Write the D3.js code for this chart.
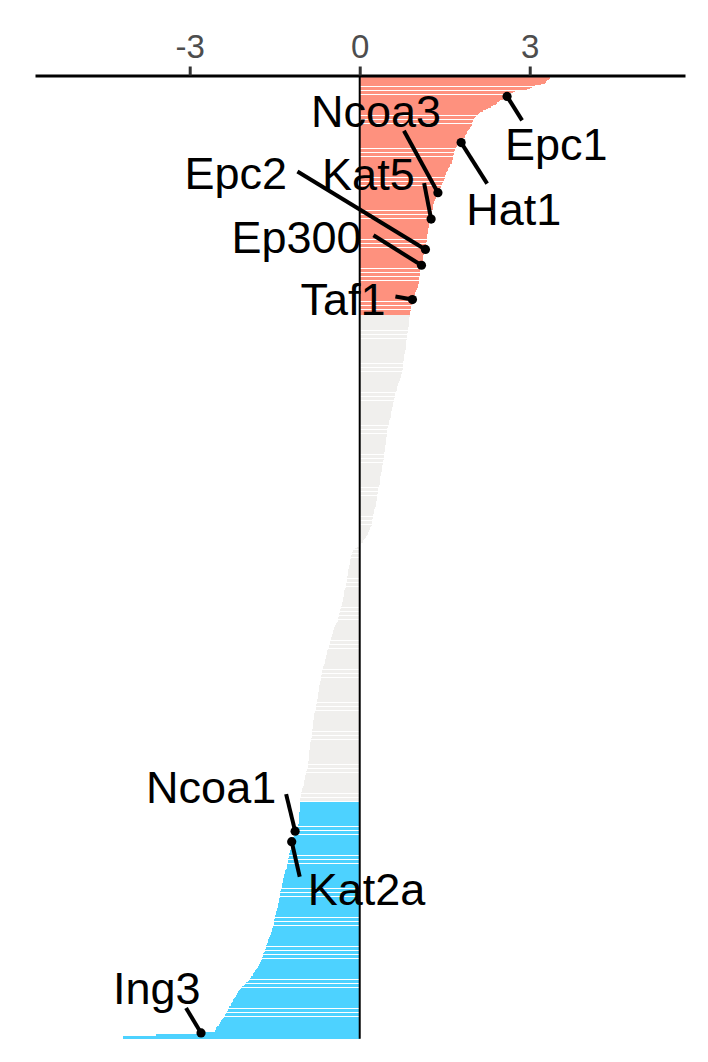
<!DOCTYPE html>
<html>
<head>
<meta charset="utf-8">
<script src="https://cdn.jsdelivr.net/npm/d3@7"></script>
<style>
  html, body { margin: 0; padding: 0; background: #ffffff; }
  svg { display: block; }
  text { font-family: "Liberation Sans", Arial, sans-serif; }
</style>
</head>
<body>
<svg id="chart" width="708" height="1062"></svg>
<script>
// ---- data (sorted scores, top to bottom) ----
const upValues = [
3.36,3.34,3.31,3.29,3.27,3.20,3.10,3.04,3.00,2.96,
2.74,2.71,2.66,2.62,2.60,2.55,2.52,2.48,2.46,2.43,
2.41,2.36,2.31,2.27,2.22,2.17,2.13,2.10,2.08,2.06,
2.04,2.02,2.00,2.00,1.99,1.99,1.98,1.97,1.95,1.93,
1.91,1.90,1.89,1.88,1.86,1.85,1.83,1.81,1.80,1.79,
1.74,1.72,1.71,1.70,1.69,1.68,1.67,1.66,1.66,1.65,
1.65,1.64,1.64,1.63,1.63,1.62,1.60,1.59,1.57,1.56,
1.55,1.54,1.53,1.52,1.51,1.50,1.50,1.49,1.48,1.47,
1.46,1.45,1.44,1.43,1.42,1.41,1.40,1.38,1.37,1.36,
1.35,1.34,1.33,1.32,1.31,1.31,1.30,1.30,1.29,1.29,
1.29,1.28,1.28,1.27,1.27,1.26,1.26,1.26,1.25,1.24,
1.23,1.23,1.22,1.22,1.21,1.21,1.20,1.20,1.20,1.19,
1.19,1.19,1.18,1.18,1.18,1.17,1.17,1.16,1.16,1.16,
1.16,1.15,1.14,1.14,1.13,1.12,1.12,1.11,1.11,1.10,
1.10,1.10,1.09,1.09,1.08,1.07,1.07,1.07,1.06,1.06,
1.06,1.05,1.05,1.05,1.04,1.04,1.04,1.03,1.03,1.02,
1.01,1.00,0.99,0.98,0.97,0.96,0.96,0.95,0.93,0.93,
0.93,0.93,0.92,0.91,0.91,0.90,0.90,0.89,0.89,0.88
];
const midValues = [
0.88,0.88,0.87,0.87,0.87,0.87,0.87,0.87,0.87,0.86,
0.86,0.85,0.85,0.85,0.84,0.84,0.83,0.83,0.83,0.82,
0.82,0.82,0.82,0.81,0.81,0.81,0.81,0.80,0.80,0.80,
0.79,0.79,0.79,0.78,0.78,0.77,0.77,0.77,0.76,0.76,
0.76,0.76,0.75,0.75,0.74,0.73,0.73,0.72,0.71,0.71,
0.70,0.69,0.68,0.67,0.66,0.66,0.65,0.65,0.64,0.63,
0.63,0.62,0.62,0.61,0.60,0.60,0.59,0.59,0.58,0.58,
0.57,0.57,0.57,0.56,0.56,0.55,0.55,0.55,0.54,0.53,
0.52,0.52,0.51,0.51,0.50,0.50,0.49,0.49,0.49,0.49,
0.48,0.48,0.48,0.47,0.47,0.47,0.46,0.46,0.46,0.45,
0.45,0.44,0.44,0.44,0.43,0.43,0.42,0.42,0.42,0.42,
0.41,0.41,0.41,0.41,0.40,0.40,0.40,0.39,0.39,0.38,
0.37,0.37,0.36,0.36,0.36,0.35,0.35,0.35,0.35,0.34,
0.34,0.33,0.33,0.33,0.32,0.32,0.31,0.31,0.31,0.30,
0.30,0.29,0.29,0.29,0.28,0.28,0.27,0.26,0.26,0.25,
0.25,0.24,0.23,0.23,0.23,0.22,0.22,0.22,0.21,0.21,
0.20,0.19,0.18,0.17,0.16,0.15,0.14,0.13,0.11,0.09,
0.08,0.06,0.05,0.03,0.01,
-0.02,-0.05,-0.08,-0.11,-0.12,
-0.13,-0.14,-0.15,-0.16,-0.16,-0.17,-0.17,-0.17,-0.18,-0.18,
-0.19,-0.19,-0.19,-0.20,-0.20,-0.21,-0.21,-0.21,-0.22,-0.22,
-0.23,-0.23,-0.23,-0.24,-0.24,-0.25,-0.25,-0.26,-0.26,-0.27,
-0.27,-0.27,-0.28,-0.28,-0.29,-0.29,-0.30,-0.30,-0.31,-0.31,
-0.32,-0.33,-0.33,-0.34,-0.35,-0.35,-0.36,-0.37,-0.37,-0.38,
-0.38,-0.39,-0.39,-0.40,-0.41,-0.43,-0.44,-0.45,-0.46,-0.47,
-0.47,-0.48,-0.49,-0.49,-0.50,-0.51,-0.51,-0.52,-0.53,-0.53,
-0.54,-0.55,-0.55,-0.56,-0.57,-0.57,-0.58,-0.58,-0.59,-0.60,
-0.60,-0.61,-0.61,-0.62,-0.62,-0.63,-0.64,-0.64,-0.65,-0.66,
-0.66,-0.67,-0.67,-0.68,-0.68,-0.68,-0.69,-0.69,-0.70,-0.70,
-0.70,-0.71,-0.71,-0.71,-0.72,-0.72,-0.73,-0.73,-0.73,-0.74,
-0.74,-0.75,-0.75,-0.76,-0.76,-0.77,-0.77,-0.78,-0.78,-0.78,
-0.79,-0.79,-0.80,-0.80,-0.80,-0.81,-0.81,-0.82,-0.82,-0.82,
-0.83,-0.83,-0.83,-0.83,-0.84,-0.84,-0.84,-0.84,-0.85,-0.85,
-0.85,-0.86,-0.86,-0.86,-0.87,-0.87,-0.87,-0.88,-0.88,-0.88,
-0.89,-0.89,-0.89,-0.89,-0.90,-0.90,-0.90,-0.90,-0.91,-0.91,
-0.91,-0.92,-0.92,-0.92,-0.93,-0.93,-0.94,-0.94,-0.95,-0.96,
-0.96,-0.97,-0.97,-0.98,-0.98,-0.99,-0.99,-1.00,-1.00,-1.01,
-1.02,-1.02,-1.03,-1.04,-1.04,-1.04,-1.05,-1.05,-1.05
];
const downValues = [
-1.05,-1.05,-1.05,-1.06,-1.06,-1.06,-1.06,-1.06,-1.07,-1.07,-1.07,
-1.07,-1.07,-1.07,-1.08,-1.08,-1.08,-1.09,-1.09,-1.10,-1.10,
-1.11,-1.14,-1.14,-1.15,-1.15,-1.16,-1.17,-1.17,-1.18,-1.20,
-1.20,-1.20,-1.21,-1.21,-1.22,-1.22,-1.23,-1.23,-1.24,-1.24,
-1.25,-1.25,-1.26,-1.26,-1.27,-1.27,-1.28,-1.28,-1.29,-1.29,
-1.30,-1.31,-1.31,-1.32,-1.33,-1.33,-1.34,-1.35,-1.35,-1.36,
-1.36,-1.37,-1.37,-1.38,-1.38,-1.39,-1.39,-1.40,-1.40,-1.40,
-1.41,-1.41,-1.42,-1.42,-1.43,-1.43,-1.44,-1.44,-1.45,-1.45,
-1.46,-1.46,-1.47,-1.47,-1.48,-1.49,-1.49,-1.50,-1.51,-1.51,
-1.52,-1.52,-1.52,-1.53,-1.53,-1.54,-1.54,-1.55,-1.56,-1.57,
-1.58,-1.59,-1.60,-1.61,-1.61,-1.62,-1.63,-1.64,-1.65,-1.66,
-1.66,-1.67,-1.68,-1.69,-1.70,-1.70,-1.71,-1.72,-1.73,-1.74,
-1.75,-1.76,-1.77,-1.78,-1.80,-1.81,-1.83,-1.85,-1.86,-1.88,
-1.89,-1.91,-1.92,-1.94,-1.96,-1.98,-2.00,-2.02,-2.05,-2.08,
-2.10,-2.11,-2.13,-2.14,-2.16,-2.17,-2.19,-2.20,-2.21,-2.23,
-2.24,-2.25,-2.27,-2.28,-2.30,-2.31,-2.32,-2.33,-2.34,-2.36,
-2.37,-2.38,-2.39,-2.41,-2.43,-2.44,-2.46,-2.47,-2.49,-2.52,
-2.53,-2.54,-2.55,-2.55,-2.80,-3.60,-3.60,-4.18,-4.18
];
const groupNames = ["up", "mid", "down"];
const xTickValues = [-3, 0, 3];
const xTickLabels = ["-3", "0", "3"];
const labelGenes = ["Epc1", "Hat1", "Ncoa3", "Kat5", "Epc2", "Ep300", "Taf1", "Ncoa1", "Kat2a", "Ing3"];
const labelRanks = [14, 49, 87, 107, 130, 142, 168, 571, 579, 724];

// ---- styling / layout ----
const groupColors = { up: "#fe917e", mid: "#f0efed", down: "#4dd2ff" };
// label offsets from the point: text (left, baseline) and segment end
const labelLayout = {
  Epc1:  { tx: -2,   ty: 64,  sx: 15,   sy: 24 },
  Hat1:  { tx: 5,    ty: 82,  sx: 26,   sy: 41 },
  Ncoa3: { tx: -127, ty: -66, sx: -34,  sy: -62 },
  Kat5:  { tx: -109, ty: -29, sx: -7,   sy: -36 },
  Epc2:  { tx: -241, ty: -60, sx: -128, sy: -78 },
  Ep300: { tx: -190, ty: -12, sx: -48,  sy: -30 },
  Taf1:  { tx: -112, ty: 15,  sx: -17,  sy: -3 },
  Ncoa1: { tx: -149, ty: -28, sx: -9,   sy: -37 },
  Kat2a: { tx: 16,   ty: 63,  sx: 8,    sy: 35 },
  Ing3:  { tx: -88,  ty: -29, sx: -15,  sy: -25 }
};

const allValues = upValues.concat(midValues, downValues);
const groups = [upValues, midValues, downValues];
const data = [];
groups.forEach((arr, gi) => arr.forEach(v => data.push({ rank: data.length, value: v, group: groupNames[gi] })));

const svg = d3.select("#chart");
const x = d3.scaleLinear().domain([-5.73, 5.74]).range([35, 685]);
const y = d3.scaleBand().domain(d3.range(data.length)).range([77.3, 1038.9]).paddingInner(0.1).paddingOuter(0.05);

// bars
svg.append("g")
  .selectAll("rect")
  .data(data)
  .join("rect")
  .attr("x", d => x(Math.min(0, d.value)))
  .attr("width", d => Math.abs(x(d.value) - x(0)))
  .attr("y", d => y(d.rank))
  .attr("height", y.bandwidth())
  .attr("fill", d => groupColors[d.group])
  .attr("shape-rendering", "crispEdges");

// zero line
svg.append("line")
  .attr("x1", x(0)).attr("x2", x(0))
  .attr("y1", 76).attr("y2", y(data.length - 1) + y.bandwidth())
  .attr("stroke", "#000").attr("stroke-width", 2);

// top axis
const axis = d3.axisTop(x).tickValues(xTickValues).tickFormat((d, i) => xTickLabels[i])
  .tickSizeInner(9).tickSizeOuter(0).tickPadding(9);
const ax = svg.append("g").attr("transform", "translate(0,75.5)").call(axis);
ax.select(".domain").attr("stroke", "#000").attr("stroke-width", 3);
ax.selectAll(".tick line").attr("stroke", "#333").attr("stroke-width", 3);
ax.selectAll(".tick text").attr("fill", "#4d4d4d").style("font-size", "33px").style("font-family", '"Liberation Sans", Arial, sans-serif');

// labels
const labelData = labelGenes.map((g, i) => ({ gene: g, rank: labelRanks[i], value: allValues[labelRanks[i]] }));
const px = d => x(d.value);
const py = d => y(d.rank) + y.bandwidth() / 2;

svg.append("g").selectAll("line")
  .data(labelData).join("line")
  .attr("x1", d => px(d) + labelLayout[d.gene].sx)
  .attr("y1", d => py(d) + labelLayout[d.gene].sy)
  .attr("x2", px).attr("y2", py)
  .attr("stroke", "#000").attr("stroke-width", 4);

svg.append("g").selectAll("circle")
  .data(labelData).join("circle")
  .attr("cx", px).attr("cy", py).attr("r", 4.6)
  .attr("fill", "#000");

svg.append("g").selectAll("text")
  .data(labelData).join("text")
  .attr("x", d => px(d) + labelLayout[d.gene].tx)
  .attr("y", d => py(d) + labelLayout[d.gene].ty)
  .attr("fill", "#000")
  .style("font-size", "45px")
  .text(d => d.gene);
</script>
</body>
</html>
